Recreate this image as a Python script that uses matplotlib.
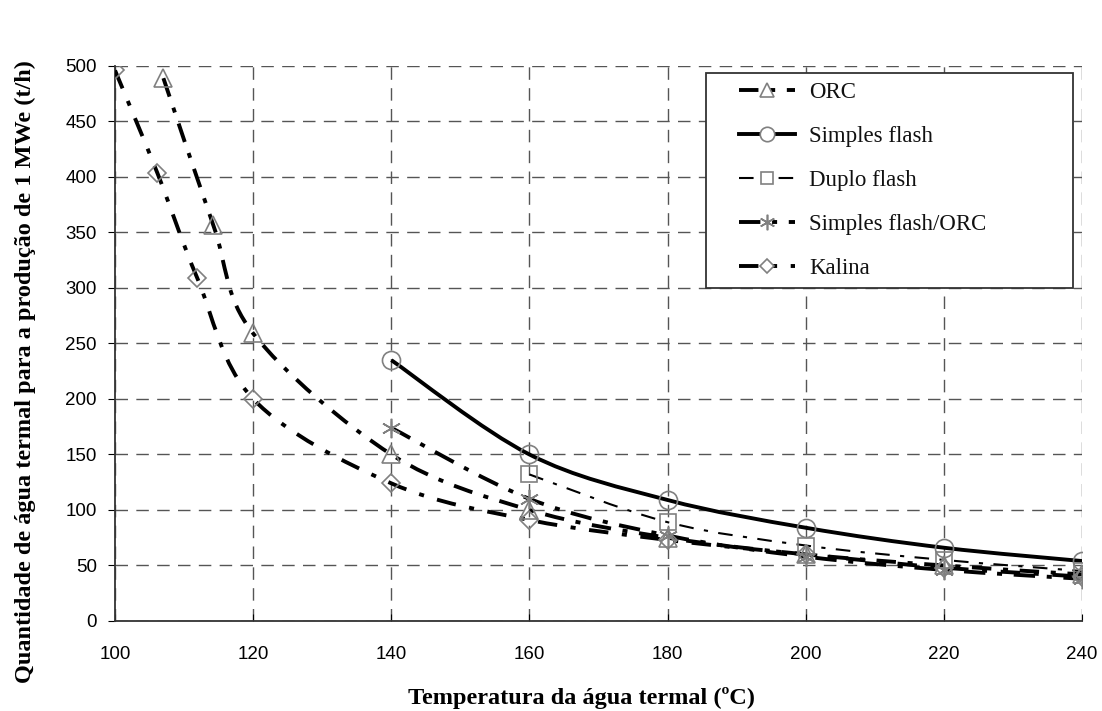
import matplotlib
matplotlib.use("Agg")
import matplotlib.pyplot as plt
from matplotlib.path import Path
from matplotlib.patches import PathPatch
from matplotlib.lines import Line2D
from matplotlib.legend_handler import HandlerLine2D
import numpy as np

# ---- data ----
orc_x = [107.0, 114.2, 120, 140, 160, 180, 200, 220, 240]
orc_y = [489, 357, 259, 150, 100, 75, 60, 50, 42]

sf_x = [140, 160, 180, 200, 220, 240]
sf_y = [235, 150, 109, 84, 66, 54]

df_x = [160, 180, 200, 220, 240]
df_y = [132, 89, 68, 55, 45]

sforc_x = [140, 160, 180, 200, 220, 240]
sforc_y = [174, 110, 77, 58, 46, 38]

kal_x = [100, 106.1, 111.9, 120, 140, 160, 180, 200, 220, 240]
kal_y = [496, 404, 309, 200, 124, 91, 73, 60, 48, 40]

labels = ["ORC", "Simples flash", "Duplo flash", "Simples flash/ORC", "Kalina"]
x_ticks = [100, 120, 140, 160, 180, 200, 220, 240]
y_ticks = [0, 50, 100, 150, 200, 250, 300, 350, 400, 450, 500]

xlabel = "Temperatura da água termal (ºC)"
ylabel = "Quantidade de água termal para a produção de 1 MWe (t/h)"

# ---- styles ----
styles = [
    dict(lw=2.8, ls=(0, (5, 3, 1.3, 3)), marker="^", ms=13),
    dict(lw=2.8, ls="-", marker="o", ms=13),
    dict(lw=1.5, ls=(0, (7, 5, 2, 5)), marker="s", ms=11),
    dict(lw=2.8, ls=(0, (5.5, 3, 1.3, 3)), marker=(6, 2, 0), ms=14),
    dict(lw=2.8, ls=(0, (5, 3.5, 1.3, 3.5)), marker="D", ms=9),
]
mk_color = "#808080"

fig = plt.figure(figsize=(11.02, 7.11), dpi=100)
ax = fig.add_axes([0.1044, 0.1266, 0.8775, 0.7806])


def smooth_path(xs, ys):
    pts = np.column_stack([xs, ys]).astype(float)
    n = len(pts)
    verts = [pts[0]]
    codes = [Path.MOVETO]
    for i in range(n - 1):
        p0 = pts[i - 1] if i > 0 else pts[i]
        p1 = pts[i]
        p2 = pts[i + 1]
        p3 = pts[i + 2] if i + 2 < n else pts[i + 1]
        c1 = p1 + (p2 - p0) / 6.0
        c2 = p2 - (p3 - p1) / 6.0
        verts += [c1, c2, p2]
        codes += [Path.CURVE4] * 3
    return Path(verts, codes)


class OffsetHandler(HandlerLine2D):
    def get_xdata(self, legend, xdescent, ydescent, width, height, fontsize):
        xdata = np.array([-xdescent + 0.3 * width, -xdescent + width])
        xmark = np.array([-xdescent + 0.65 * width])
        return xdata, xmark


series = [(orc_x, orc_y), (sf_x, sf_y), (df_x, df_y), (sforc_x, sforc_y), (kal_x, kal_y)]
handles = []
for (xs, ys), st, lab in zip(series, styles, labels):
    patch = PathPatch(smooth_path(xs, ys), facecolor="none", edgecolor="black",
                      lw=st["lw"], linestyle=st["ls"], zorder=3, capstyle="butt")
    ax.add_patch(patch)
    ax.plot(xs, ys, ls="none", marker=st["marker"], ms=st["ms"], mfc="none",
            mec=mk_color, mew=1.2, zorder=4)
    handles.append(Line2D([], [], color="black", lw=st["lw"], ls=st["ls"],
                          marker=st["marker"], ms=st["ms"] * 0.8, mfc="white",
                          mec=mk_color, mew=1.2))

ax.set_xlim(100, 240)
ax.set_ylim(0, 500)
ax.set_xticks(x_ticks)
ax.set_yticks(y_ticks)
ax.grid(True, color="#555555", ls=(0, (9, 6)), lw=1.0)
ax.set_axisbelow(True)
for s in ["top", "right"]:
    ax.spines[s].set_visible(False)
for s in ["left", "bottom"]:
    ax.spines[s].set_color("#333333")
    ax.spines[s].set_linewidth(1.3)
ax.tick_params(axis="y", direction="out", length=5, labelsize=13.5, pad=8)
ax.tick_params(axis="x", direction="in", length=5, labelsize=13.5, pad=18)
for lab in ax.get_xticklabels() + ax.get_yticklabels():
    lab.set_fontfamily("Liberation Sans")

ax.set_xlabel(xlabel, fontfamily="Liberation Serif", fontweight="bold", fontsize=17.5)
ax.xaxis.set_label_coords(0.482, -0.119)
ax.set_ylabel(ylabel, fontfamily="Liberation Serif", fontweight="bold", fontsize=17.5)
ax.yaxis.set_label_coords(-0.082, 0.45)

leg = ax.legend(handles, labels, loc="upper left",
                bbox_to_anchor=(0.611, 0.596, 0.3797, 0.391), mode="expand",
                prop={"family": "Liberation Serif", "size": 16.5}, frameon=True,
                fancybox=False, edgecolor="#333333", framealpha=1,
                handlelength=3.5, labelspacing=1.0, borderpad=0.4, handletextpad=0.6,
                borderaxespad=0, handler_map={Line2D: OffsetHandler(numpoints=1)})
leg.get_frame().set_linewidth(1.3)
for t in leg.get_texts():
    t.set_color("#111111")

fig.savefig("out.png", dpi=100)
